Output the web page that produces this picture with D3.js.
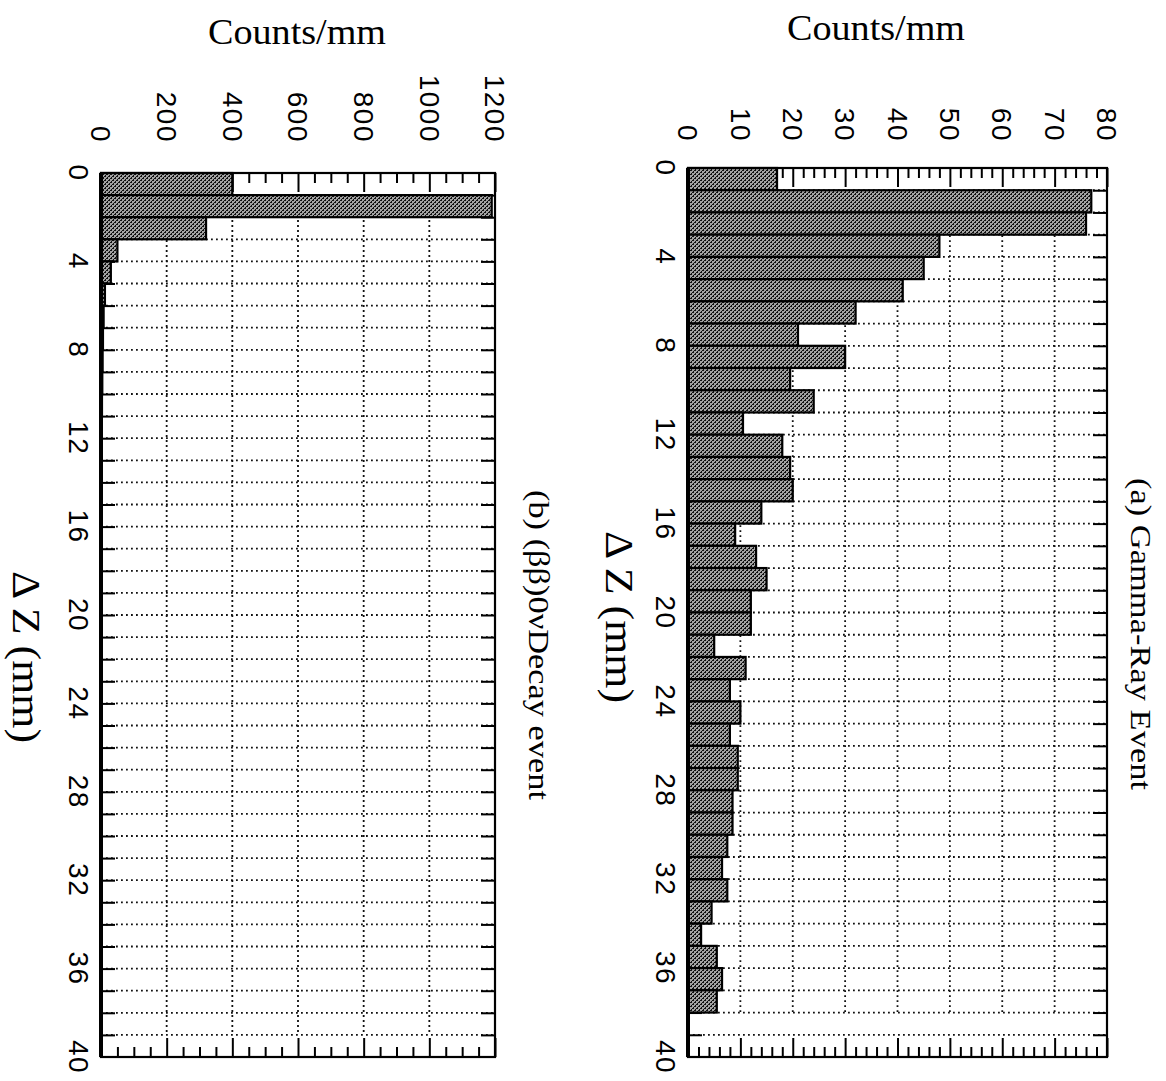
<!DOCTYPE html>
<html>
<head>
<meta charset="utf-8">
<script src="https://cdn.jsdelivr.net/npm/d3@7"></script>
<style>
  body { margin: 0; background: #fff; }
</style>
</head>
<body>
<div id="chart"></div>
<script>
// Data (histograms of delta-Z, 1 mm bins)
const dzBins = [0,1,2,3,4,5,6,7,8,9,10,11,12,13,14,15,16,17,18,19,
                20,21,22,23,24,25,26,27,28,29,30,31,32,33,34,35,36,37,38,39];
const gammaCounts = [17, 77, 76, 48, 45, 41, 32, 21, 30, 19.5,
                     24, 10.5, 18, 19.5, 20, 14, 9, 13, 15, 12,
                     12, 5, 11, 8, 10, 8, 9.5, 9.5, 8.5, 8.5,
                     7.5, 6.5, 7.5, 4.5, 2.5, 5.5, 6.5, 5.5, 0, 0];
const betaCounts = [400, 1190, 320, 50, 30, 12, 8, 6, 5, 4,
                    3, 2, 0, 0, 0, 0, 0, 0, 0, 0,
                    0, 0, 0, 0, 0, 0, 0, 0, 0, 0,
                    0, 0, 0, 0, 0, 0, 0, 0, 0, 0];
const dzLabels = [0, 4, 8, 12, 16, 20, 24, 28, 32, 36, 40];
const gammaTicks = [0, 10, 20, 30, 40, 50, 60, 70, 80];
const gammaMinor = [2,4,6,8,12,14,16,18,22,24,26,28,32,34,36,38,42,44,46,48,52,54,56,58,62,64,66,68,72,74,76,78];
const betaTicks = [0, 200, 400, 600, 800, 1000, 1200];
const betaMinor = [50,100,150,250,300,350,450,500,550,650,700,750,850,900,950,1050,1100,1150];

const width = 1166, height = 1081;
const svg = d3.select("#chart").append("svg")
    .attr("width", width)
    .attr("height", height);

// halftone-like fill for the bars
const pat = svg.append("defs").append("pattern")
    .attr("id", "stipple")
    .attr("patternUnits", "userSpaceOnUse")
    .attr("width", 4).attr("height", 4);
pat.append("rect").attr("width", 4).attr("height", 4).attr("fill", "#a2a2a2");
[[0, 0, 2, 1], [2, 2, 2, 1], [1, 3, 1, 1], [3, 1, 1, 1]].forEach(p => {
    pat.append("rect")
        .attr("x", p[0]).attr("y", p[1]).attr("width", p[2]).attr("height", p[3])
        .attr("fill", "#111");
});

function drawPanel(opt) {
    const x = d3.scaleLinear().domain([0, opt.max]).range([opt.left, opt.right]);
    const y = d3.scaleLinear().domain([0, 40]).range([opt.top, opt.bottom]);
    const g = svg.append("g");

    // dotted grid, one line per mm
    g.append("g").selectAll("line")
        .data(dzBins.slice(1))
        .join("line")
        .attr("x1", x(0)).attr("x2", x(opt.max))
        .attr("y1", d => y(d)).attr("y2", d => y(d))
        .attr("stroke", "#111").attr("stroke-width", 1.8)
        .attr("stroke-dasharray", "1.8,3.2");

    // dotted grid at the major count ticks
    g.append("g").selectAll("line")
        .data(opt.ticks.slice(1, -1))
        .join("line")
        .attr("x1", d => x(d)).attr("x2", d => x(d))
        .attr("y1", y(1)).attr("y2", y(opt.gridEnd))
        .attr("stroke", "#111").attr("stroke-width", 1.8)
        .attr("stroke-dasharray", "1.8,3.2");

    // count ticks on top and bottom edges
    const tickAxis = (axis, values, size, ty) => {
        g.append("g")
            .attr("transform", `translate(0,${ty})`)
            .call(axis(x).tickValues(values).tickSize(-size).tickFormat(""))
            .call(s => s.select(".domain").remove())
            .selectAll("line").attr("stroke", "#000").attr("stroke-width", 2);
    };
    tickAxis(d3.axisTop, opt.ticks, 19, y(0));
    tickAxis(d3.axisTop, opt.minor, 10, y(0));
    tickAxis(d3.axisBottom, opt.ticks, 19, y(40));
    tickAxis(d3.axisBottom, opt.minor, 10, y(40));

    // mm ticks on left and right edges
    g.append("g")
        .attr("transform", `translate(${x(0)},0)`)
        .call(d3.axisLeft(y).tickValues(dzBins.slice(1)).tickSize(-14).tickFormat(""))
        .call(s => s.select(".domain").remove())
        .selectAll("line").attr("stroke", "#000").attr("stroke-width", 2);
    g.append("g")
        .attr("transform", `translate(${x(opt.max)},0)`)
        .call(d3.axisRight(y).tickValues(dzBins.slice(1)).tickSize(-14).tickFormat(""))
        .call(s => s.select(".domain").remove())
        .selectAll("line").attr("stroke", "#000").attr("stroke-width", 2);

    // histogram bars
    const rows = opt.counts.map((v, i) => ({ bin: dzBins[i], v: v })).filter(d => d.v > 0);
    g.append("g").selectAll("rect")
        .data(rows)
        .join("rect")
        .attr("x", x(0))
        .attr("y", d => y(d.bin))
        .attr("width", d => x(d.v) - x(0))
        .attr("height", d => y(d.bin + 1) - y(d.bin))
        .attr("fill", "url(#stipple)")
        .attr("stroke", "#000")
        .attr("stroke-width", 2.2);

    // frame
    g.append("rect")
        .attr("x", x(0)).attr("y", y(0))
        .attr("width", x(opt.max) - x(0)).attr("height", y(40) - y(0))
        .attr("fill", "none").attr("stroke", "#000").attr("stroke-width", 2.2);
    g.append("line")
        .attr("x1", x(0)).attr("x2", x(0)).attr("y1", y(0)).attr("y2", y(40))
        .attr("stroke", "#000").attr("stroke-width", 4);

    // count tick labels (rotated like the scan)
    g.append("g").selectAll("text")
        .data(opt.ticks)
        .join("text")
        .attr("transform", d => `translate(${x(d)},${opt.labelEnd}) rotate(90)`)
        .attr("text-anchor", "end")
        .attr("dy", "0.35em")
        .attr("font-family", "Liberation Sans, Arial, sans-serif")
        .attr("font-size", 28)
        .attr("letter-spacing", 1.5)
        .text(d => d);

    // delta-Z tick labels
    g.append("g").selectAll("text")
        .data(dzLabels)
        .join("text")
        .attr("transform", d => `translate(${x(0) - 22},${y(d)}) rotate(90)`)
        .attr("text-anchor", "middle")
        .attr("dy", "0.35em")
        .attr("font-family", "Liberation Sans, Arial, sans-serif")
        .attr("font-size", 28)
        .attr("letter-spacing", 1.5)
        .text(d => d);

    // delta-Z axis title
    g.append("text")
        .attr("transform", `translate(${x(0) - opt.axisTitleOff},${opt.axisTitleY}) rotate(90)`)
        .attr("text-anchor", "middle")
        .attr("font-family", "Liberation Serif, Times New Roman, serif")
        .attr("font-size", 40)
        .attr("textLength", 172)
        .attr("lengthAdjust", "spacingAndGlyphs")
        .text("\u0394 Z (mm)");

    // panel caption
    g.append("text")
        .attr("transform", `translate(${x(opt.max) + opt.captionOff},${opt.captionY}) rotate(90)`)
        .attr("text-anchor", "start")
        .attr("font-family", "Liberation Serif, Times New Roman, serif")
        .attr("font-size", 30)
        .attr("textLength", opt.captionLen)
        .attr("lengthAdjust", "spacingAndGlyphs")
        .text(opt.caption);

    // counts title, horizontal in the scan
    g.append("text")
        .attr("x", opt.countsX)
        .attr("y", opt.countsY)
        .attr("text-anchor", "middle")
        .attr("font-family", "Liberation Serif, Times New Roman, serif")
        .attr("font-size", 35)
        .attr("textLength", 178)
        .attr("lengthAdjust", "spacingAndGlyphs")
        .text("Counts/mm");
}

drawPanel({
    counts: gammaCounts, max: 80, ticks: gammaTicks, minor: gammaMinor,
    left: 688, right: 1107, top: 168, bottom: 1057, gridEnd: 38,
    labelEnd: 142, axisTitleOff: 82, axisTitleY: 617,
    caption: "(a) Gamma-Ray Event", captionOff: 24, captionY: 478, captionLen: 312,
    countsX: 876, countsY: 40
});

drawPanel({
    counts: betaCounts, max: 1200, ticks: betaTicks, minor: betaMinor,
    left: 101, right: 495, top: 173, bottom: 1057, gridEnd: 39,
    labelEnd: 143, axisTitleOff: 88, axisTitleY: 657,
    caption: "(b) (\u03b2\u03b2)0\u03bdDecay event", captionOff: 34, captionY: 490, captionLen: 310,
    countsX: 297, countsY: 44
});
</script>
</body>
</html>
